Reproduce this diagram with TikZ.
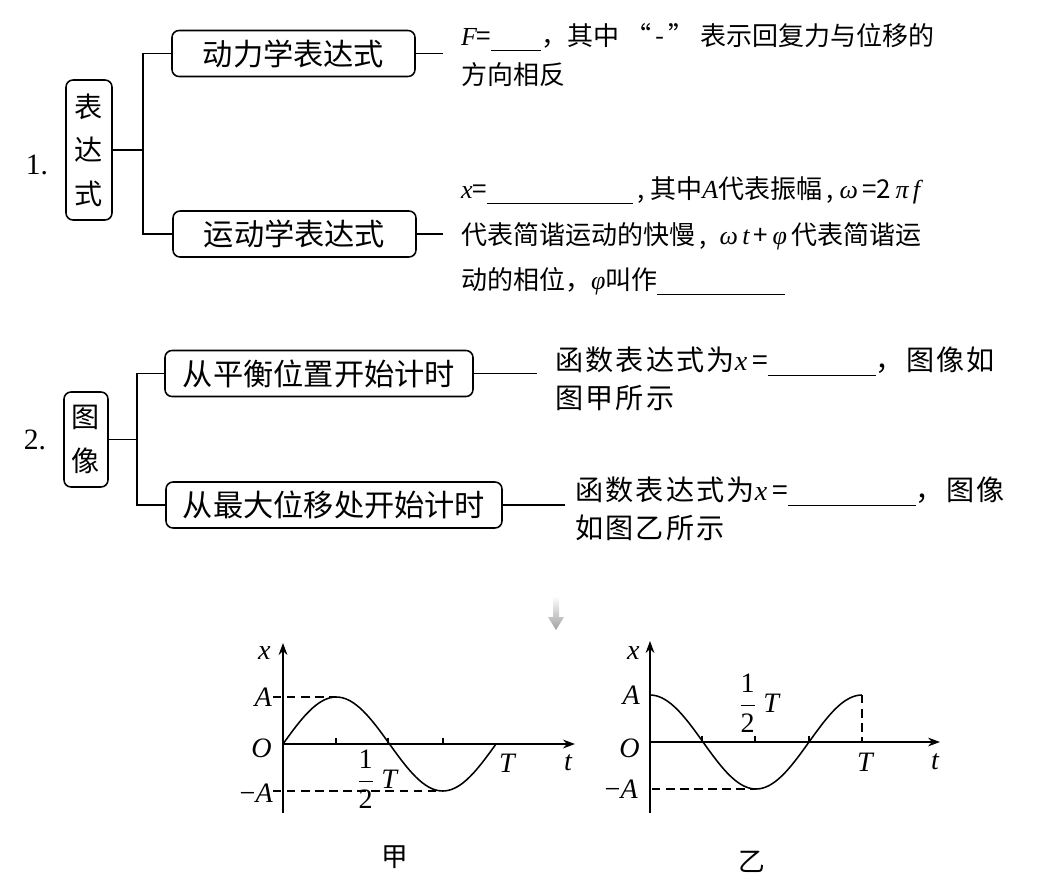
\documentclass[tikz,border=0pt]{standalone}
\usepackage{fontspec}
\setmainfont{Liberation Serif}
\newfontfamily\cjk{Noto Sans CJK SC}
\newfontfamily\cjkwide[LetterSpace=8]{Noto Sans CJK SC}
\usetikzlibrary{arrows.meta}

\newcommand{\blank}[1]{\rule[-0.2em]{#1}{0.6pt}}
\newcommand{\ital}[1]{{\rmfamily\itshape #1}}
\newcommand{\halfT}{$\displaystyle\frac{\hbox{1}}{\hbox{2}}$\hspace{0.25em}\ital{T}}

\begin{document}
\begin{tikzpicture}[x=0.25mm, y=-0.25mm,
        topic/.style={draw, rounded corners=5pt, line width=1.1pt, inner sep=0pt, align=center, font=\cjk\fontsize{20}{31}\selectfont},
        branch/.style={draw, rounded corners=5pt, line width=1.1pt, inner sep=0pt, minimum height=11.5mm, font=\cjk\fontsize{21.5}{26}\selectfont},
        desc/.style={anchor=west, align=left, inner sep=0pt, outer xsep=4.5mm, font=\cjk\fontsize{18.5}{28}\selectfont},
        num/.style={font=\fontsize{21}{24}\selectfont},
        link/.style={line width=1.1pt},
        axis/.style={line width=1pt, -{Stealth[length=3mm, width=2.2mm]}},
        guide/.style={line width=0.8pt, dash pattern=on 6pt off 4pt},
        wave/.style={line width=1.1pt},
        lbl/.style={font=\fontsize{20}{22}\selectfont, inner sep=0pt}
    ]
        \useasboundingbox (0,0) rectangle (1055,886);

        % part 1
        \node[num] (one) at (37,165) {1.};
        \node[topic, minimum width=11.5mm, minimum height=35mm] (expr) at (89,150) {表\\达\\式};
        \node[branch, minimum width=60.75mm] (dyn) at (293.5,53.5) {动力学表达式};
        \node[branch, minimum width=60.75mm] (kin) at (294.5,234) {运动学表达式};
        \coordinate (j1) at (143,150);

        \node[desc] (dyndesc) at (443,55) {\ital{F}=\blank{12.5mm}，其中 “\,-\,” 表示回复力与位移的\\方向相反};
        \node[desc, font=\cjk\fontsize{18.5}{32.5}\selectfont] (kindesc) at (443,236)
            {\ital{x}=\blank{36.5mm}\,, 其中\ital{A}代表振幅\,, \ital{ω}\,=2\,\ital{π\,f}\\代表简谐运动的快慢\,,\enspace\ital{ω\,t}\,+\,\ital{φ}\,代表简谐运\\动的相位，\ital{φ}叫作\blank{32mm}};

        \draw[link] (expr.east) -- (expr.east -| j1);
        \draw[link] (dyn.west) -| (j1) |- (kin.west);
        \draw[link] (dyn.east) -- (dyn.east -| dyndesc.west);
        \draw[link] (kin.east) -- (kin.east -| kindesc.west);

        % part 2
        \node[num] (two) at (35,440) {2.};
        \node[topic, minimum width=11mm, minimum height=23.75mm] (graph) at (86,439.5) {图\\像};
        \node[branch, minimum width=77mm] (equi) at (319,373.5) {从平衡位置开始计时};
        \node[branch, minimum width=84mm] (maxd) at (334,505) {从最大位移处开始计时};
        \coordinate (j2) at (137,439.5);

        \node[desc, font=\cjkwide\fontsize{20}{27}\selectfont] (equidesc) at (537,379)
            {函数表达式为\ital{x}\,=\blank{27mm}，图像如\\图甲所示};
        \node[desc, outer xsep=2.5mm, font=\cjkwide\fontsize{20}{27}\selectfont] (maxddesc) at (565,509)
            {函数表达式为\ital{x}\,=\blank{32mm}，图像\\如图乙所示};

        \draw[link] (graph.east) -- (graph.east -| j2);
        \draw[link] (equi.west) -| (j2) |- (maxd.west);
        \draw[link] (equi.east) -- (equi.east -| equidesc.west);
        \draw[link] (maxd.east) -- (maxd.east -| maxddesc.west);

        % arrow down
        \shade[top color=white, bottom color=gray!75] (553,596) -- (559,596) -- (559,617) -- (564,617) -- (556,630) -- (548,617) -- (553,617) -- cycle;

        % graph jia
        \draw[axis] (283,813) -- (283,643);
        \draw[axis] (283,744) -- (575,744);
        \foreach \tx in {336,388,443} \draw[line width=0.8pt] (\tx,744) -- (\tx,738);
        \draw[guide] (273,697) -- (336,697);
        \draw[guide] (273,791) -- (443,791);
        \draw[wave] plot[domain=0:360, samples=73, smooth] ({283+\x/360*213},{744-47*sin(\x)});
        \node[lbl, anchor=east] (jx) at (271,653) {\ital{x}};
        \node[lbl, anchor=east] (jA) at (272,697) {\ital{A}};
        \node[lbl, anchor=east] (jO) at (272,748) {\ital{O}};
        \node[lbl, anchor=east] (jmA) at (273,793) {−\ital{A}};
        \node[lbl] (jhalf) at (377,779) {\halfT};
        \node[lbl] (jT) at (507,763) {\ital{T}};
        \node[lbl] (jt) at (568,763) {\ital{t}};
        \node[font=\cjk\fontsize{19}{22}\selectfont] (jia) at (395,857) {甲};

        % graph yi
        \draw[axis] (650,813) -- (650,641);
        \draw[axis] (650,742) -- (940,742);
        \foreach \tx in {702,755,809} \draw[line width=0.8pt] (\tx,742) -- (\tx,736);
        \draw[guide] (652,789) -- (755,789);
        \draw[guide] (862,695) -- (862,742);
        \draw[wave] plot[domain=0:360, samples=73, smooth] ({650+\x/360*212},{742-47*cos(\x)});
        \node[lbl, anchor=east] (yx) at (640,653) {\ital{x}};
        \node[lbl, anchor=east] (yA) at (640,695) {\ital{A}};
        \node[lbl, anchor=east] (yO) at (640,748) {\ital{O}};
        \node[lbl, anchor=east] (ymA) at (638,789) {−\ital{A}};
        \node[lbl] (yhalf) at (759,703) {\halfT};
        \node[lbl] (yT) at (865,762) {\ital{T}};
        \node[lbl] (yt) at (935,762) {\ital{t}};
        \node[font=\cjk\fontsize{19}{22}\selectfont] (yi) at (752,862) {乙};
    \end{tikzpicture}
\end{document}
